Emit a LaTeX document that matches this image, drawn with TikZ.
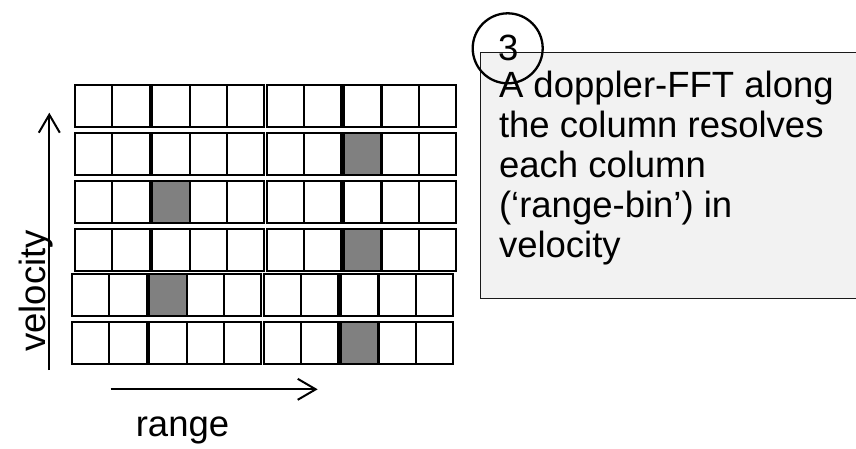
\documentclass[tikz,border=0pt]{standalone}
\usepackage{fontspec}
\setmainfont{Liberation Sans}
\usetikzlibrary{arrows.meta}
\definecolor{boxfill}{HTML}{F2F2F2}
\definecolor{cellgray}{HTML}{808080}
\definecolor{boxline}{HTML}{1A1A1A}
\begin{document}
\begin{tikzpicture}[x=1pt,y=-1pt,
  cellbox/.style={draw=black, line width=2.2pt, minimum width=37.3pt, minimum height=41.6pt, anchor=north west, inner sep=0pt, outer sep=0pt},
  axisarrow/.style={line width=2pt, -{Straight Barb[length=18pt,width=21pt]}},
  bigtext/.style={font=\fontsize{36.5}{40}\selectfont, inner sep=0pt, outer sep=0pt},
  notebox/.style={draw=boxline, fill=boxfill, line width=1.2pt, anchor=north west, minimum width=380pt, minimum height=246pt, inner sep=0pt},
  stepcircle/.style={draw=black, line width=2.3pt, circle, minimum size=70pt, inner sep=0pt}
  ]
\useasboundingbox (0,0) rectangle (856,448);
\clip (0,0) rectangle (856,448);

% grid of range-doppler cells
\foreach \row/\xo/\yo/\hitcol in {1/75/85/0, 2/75/133.3/8, 3/75/181/3, 4/75/229.3/8, 5/72/274/3, 6/72/322.3/8}{
  \foreach \c/\g in {1/0,2/0,3/1,4/1,5/1,6/2,7/2,8/3,9/3,10/3}{
    \ifnum\c=\hitcol\def\fc{cellgray}\else\def\fc{white}\fi
    \node[cellbox, fill=\fc] (c-\row-\c) at ({\xo+(\c-1)*37.3+\g*2.7},\yo) {};
  }
}

% axes
\coordinate (vtail) at (49.3,370);
\coordinate (vhead) at (49.3,112.7);
\draw[axisarrow] (vtail) -- (vhead);
\coordinate (rtail) at (110.7,389.3);
\coordinate (rhead) at (317.7,389.3);
\draw[axisarrow] (rtail) -- (rhead);

\node[bigtext, rotate=90, anchor=base] (vlabel) at (45,290.8) {velocity};
\node[bigtext, anchor=base] (rlabel) at (182.5,436) {range};

% note box
\node[notebox] (box) at (480,51.7) {};
\node[bigtext, anchor=north west, align=left] (note) at (499,70.9)
  {A doppler-FFT along\\the column resolves\\each column\\(‘range-bin’) in\\velocity};

% step marker
\node[stepcircle] (step3) at (507.7,48.3) {};
\node[bigtext, anchor=base] (num3) at (508.3,60) {3};
\end{tikzpicture}
\end{document}
